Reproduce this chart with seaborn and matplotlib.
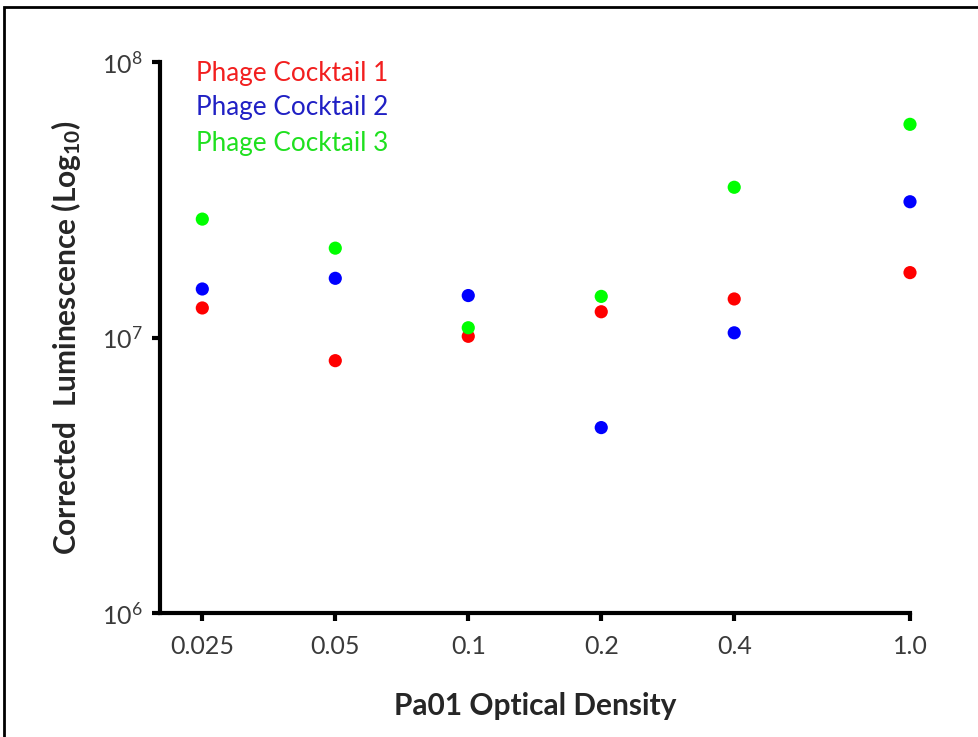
import numpy as np
import pandas as pd
import matplotlib
matplotlib.use("Agg")
import matplotlib.pyplot as plt
from matplotlib.patches import Rectangle
from matplotlib.ticker import FixedLocator, FixedFormatter, LogLocator, NullLocator
import seaborn as sns

# Optical densities tested
od = [0.025, 0.05, 0.1, 0.2, 0.4, 1.0]
od_labels = ["0.025", "0.05", "0.1", "0.2", "0.4", "1.0"]

# Corrected luminescence per phage cocktail
cocktail_1 = [1.28e7, 8.24e6, 1.01e7, 1.24e7, 1.38e7, 1.72e7]
cocktail_2 = [1.50e7, 1.64e7, 1.42e7, 4.71e6, 1.04e7, 3.11e7]
cocktail_3 = [2.69e7, 2.11e7, 1.085e7, 1.41e7, 3.51e7, 5.94e7]

series_names = ["Phage Cocktail 1", "Phage Cocktail 2", "Phage Cocktail 3"]
marker_colors = ["#ff0000", "#0000ff", "#00ff00"]
text_colors = ["#f21f1f", "#2020c4", "#1fe01f"]

df = pd.DataFrame({
    "od": od * 3,
    "lum": cocktail_1 + cocktail_2 + cocktail_3,
    "series": [series_names[0]] * 6 + [series_names[1]] * 6 + [series_names[2]] * 6,
})

sns.set_theme(style="ticks")
plt.rcParams["font.family"] = ["Lato", "DejaVu Sans"]
plt.rcParams["mathtext.fontset"] = "custom"
plt.rcParams["mathtext.rm"] = "Lato"
plt.rcParams["mathtext.bf"] = "Lato:bold"

fig = plt.figure(figsize=(9.79, 7.37), dpi=100)
ax = fig.add_axes([159.5 / 979, 1 - 613 / 737, (910 - 159.5) / 979, (613 - 62) / 737])

sns.scatterplot(data=df, x="od", y="lum", hue="series", palette=marker_colors,
                s=90, linewidth=0, legend=False, ax=ax, clip_on=False, zorder=3)

ax.set_xscale("log", base=2)
ax.set_yscale("log")
ax.set_xlim(0.02, 1.0)
ax.set_ylim(1e6, 1e8)

ax.xaxis.set_major_locator(FixedLocator(od))
ax.xaxis.set_major_formatter(FixedFormatter(od_labels))
ax.xaxis.set_minor_locator(NullLocator())
ax.yaxis.set_major_locator(LogLocator(base=10, numticks=5))
ax.yaxis.set_minor_locator(NullLocator())

for side in ("top", "right"):
    ax.spines[side].set_visible(False)
for side in ("left", "bottom"):
    ax.spines[side].set_linewidth(3)
    ax.spines[side].set_color("black")
ax.spines["bottom"].set_bounds(0.02, 1.0)

ax.tick_params(axis="both", which="major", direction="out", length=6, width=3,
               color="black", labelsize=18, labelcolor="#3a3a3a", pad=6)
ax.tick_params(axis="x", pad=10)

ax.set_xlabel("Pa01 Optical Density", fontsize=21.5, fontweight="bold", labelpad=24)
ax.set_ylabel("Corrected  Luminescence (Log$\\mathbf{_{10}}$)", fontsize=21.5,
              fontweight="bold", labelpad=14)

# Series key drawn as coloured text
for i, (name, col) in enumerate(zip(series_names, text_colors)):
    ax.text(196 / 979, 1 - (73 + 35 * i) / 737, name, color=col, fontsize=18.8,
            transform=fig.transFigure, va="center", ha="left")

# Outer frame around the figure
fig.add_artist(Rectangle((4 / 979, -0.2), 1.2, 1.2 - 6.5 / 737, transform=fig.transFigure,
                         fill=False, edgecolor="black", linewidth=2, clip_on=False))

fig.savefig("out.png", dpi=100)
